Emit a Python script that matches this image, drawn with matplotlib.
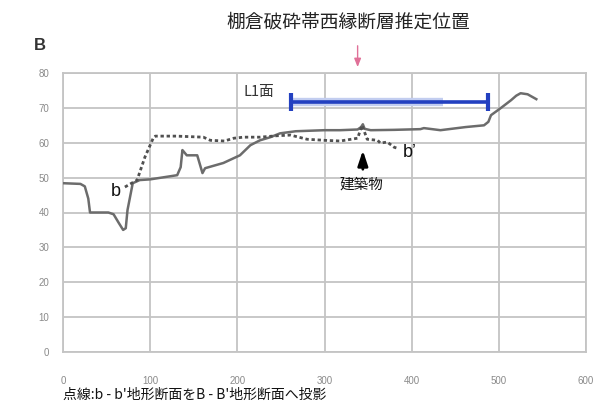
import matplotlib
matplotlib.use("Agg")
import matplotlib.pyplot as plt

plt.rcParams['font.family'] = ['Noto Sans CJK JP', 'DejaVu Sans']

# ---- data ----
solid_x = [0, 20, 25, 29, 31, 52, 58, 64, 69, 72, 74, 80, 88, 100, 131, 135, 137, 138, 142, 154,
           160, 163, 184, 203, 215, 226, 238, 249, 267, 300, 318, 338, 342, 344, 346, 353, 380,
           410, 414, 433, 462, 483, 488, 491, 502, 514, 520, 525, 533, 543]
solid_y = [48.4, 48.2, 47.5, 44, 40, 40, 39.5, 37, 35, 35.5, 40.7, 48.4, 49.3, 49.5, 50.7, 53, 57.9,
           57.6, 56.4, 56.4, 51.3, 52.7, 54.2, 56.4, 59.3, 60.7, 61.6, 62.7, 63.3, 63.6, 63.6, 63.8,
           64.5, 65.3, 64, 63.6, 63.7, 63.9, 64.2, 63.6, 64.5, 65, 66, 67.9, 69.9, 72.2, 73.5, 74.2,
           73.9, 72.5]

dot_x = [71, 85, 94, 104, 106, 130, 161, 169, 185, 196, 207, 226, 245, 261, 280, 300, 318, 338,
         343, 349, 361, 364, 372, 380, 384]
dot_y = [47.3, 49.3, 55.9, 61.6, 61.9, 61.9, 61.6, 60.7, 60.5, 61.3, 61.6, 61.6, 62, 62.2, 61,
         60.7, 60.5, 61.3, 65, 61, 60.7, 59.9, 60.2, 58.7, 58.4]

l1_x = [262, 488]
l1_y = 71.7
fault_x = 338
building_x = 344

x_ticks = [0, 100, 200, 300, 400, 500, 600]
y_ticks = [0, 10, 20, 30, 40, 50, 60, 70, 80]

title = "棚倉破砕帯西縁断層推定位置"
caption = "点線:b - b'地形断面をB - B'地形断面へ投影"

# ---- figure ----
fig = plt.figure(figsize=(5.98, 4.05), dpi=100)
ax = fig.add_axes([63/598, 1-352/405, (586-63)/598, (352-73)/405])
ax.set_xlim(0, 600)
ax.set_ylim(0, 80)
ax.set_xticks(x_ticks)
ax.set_yticks(y_ticks)
ax.grid(True, color='#c4c4c4', lw=1.3)
ax.set_axisbelow(True)
for s in ax.spines.values():
    s.set_color('#c4c4c4')
    s.set_linewidth(1.3)
ax.tick_params(length=0, labelsize=7, labelcolor='#8a8a8a')
ax.tick_params(axis='y', pad=10)
ax.tick_params(axis='x', pad=17)
for lab in ax.get_xticklabels() + ax.get_yticklabels():
    lab.set_family(['Liberation Sans', 'DejaVu Sans'])

# profiles
ax.plot(solid_x, solid_y, color='#6c6c6c', lw=1.8, zorder=3)
ax.plot(dot_x, dot_y, color='#505050', lw=2.0, ls=(0, (1.2, 1.0)), zorder=3)

# L1 surface bar
ax.plot([l1_x[0], 436], [l1_y, l1_y], color='#c2cdf0', lw=6, solid_capstyle='butt', zorder=4)
ax.plot(l1_x, [l1_y, l1_y], color='#2340c0', lw=2.6, solid_capstyle='butt', zorder=5)
ax.plot(l1_x, [l1_y, l1_y], ls='none', marker='|', ms=13, mew=3, color='#2340c0', zorder=5)

# texts in axes
ax.text(207, 74.5, "L1面", fontsize=10.5, color='#333333', ha='left', va='center')
ax.text(60, 46.1, "b", fontsize=13, color='#111111', ha='center', va='center',
        family=['Liberation Sans', 'DejaVu Sans'])
ax.text(390, 57.3, "b’", fontsize=13, color='#111111', ha='left', va='center',
        family=['Liberation Sans', 'DejaVu Sans'])
ax.text(342.5, 47.9, "建築物", fontsize=10.5, color='#111111', ha='center', va='center')

# arrows
ax.annotate("", xy=(building_x, 58.6), xytext=(building_x, 51.6),
            arrowprops=dict(arrowstyle='-|>,head_width=0.3,head_length=0.9', color='black', lw=2),
            annotation_clip=False)
ax.annotate("", xy=(fault_x, 80.9), xytext=(fault_x, 88.6),
            arrowprops=dict(arrowstyle='-|>,head_width=0.2,head_length=0.5', color='#e07098', lw=1),
            annotation_clip=False)

# figure texts
fig.text(348/598, 1-22/405, title, fontsize=13.5, color='#222222', ha='center', va='center')
fig.text(40/598, 1-45/405, "B", fontsize=12, color='#333333', ha='center', va='center',
         weight='bold', family=['Liberation Sans', 'DejaVu Sans'])
fig.text(63/598, 1-395/405, caption, fontsize=10, color='#111111', ha='left', va='center')

fig.savefig("out.png", dpi=100, facecolor='white')
